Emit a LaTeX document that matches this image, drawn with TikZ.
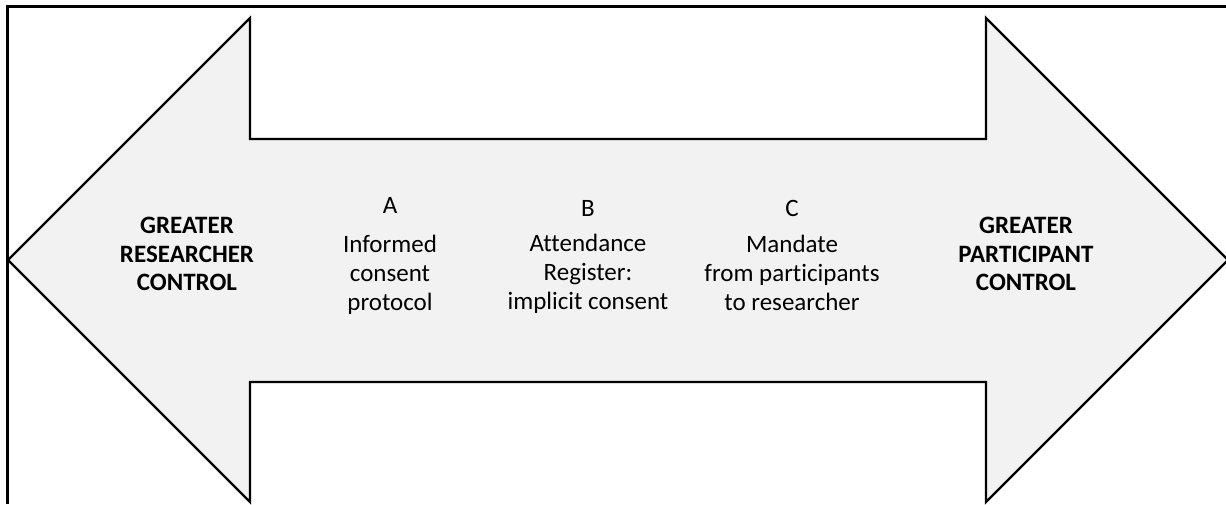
\documentclass[tikz,border=0pt]{standalone}
\usepackage{fontspec}
\setmainfont{Carlito}[Ligatures={NoCommon}]
\definecolor{arrowfill}{HTML}{F2F2F2}
\begin{document}
\begin{tikzpicture}[x=1pt,y=-1pt,
  label/.style={align=center,font=\fontsize{25}{28.8}\selectfont,inner sep=0pt},
  endlabel/.style={label,font=\fontsize{25}{28.8}\selectfont\bfseries},
  letter/.style={label}]
  \useasboundingbox (0,0) rectangle (1226,504);
  % frame (open at right and bottom)
  \draw[line width=3pt] (7,504) -- (7,6) -- (1230,6);
  % double-headed block arrow
  \draw[line width=2.2pt,fill=arrowfill,line join=miter]
    (8,260) -- (250,18) -- (250,139) -- (986,139) -- (986,18) -- (1228,260)
    -- (986,502) -- (986,382) -- (250,382) -- (250,502) -- cycle;
  % end labels
  \node[endlabel] (left) at (187,254) {GREATER\\RESEARCHER\\CONTROL};
  \node[endlabel] (right) at (1026,254) {GREATER\\PARTICIPANT\\CONTROL};
  % positions along the scale
  \node[letter] (la) at (390,205) {A};
  \node[label] (ta) at (390,275) {Informed\\consent\\protocol};
  \node[letter] (lb) at (588,208) {B};
  \node[label] (tb) at (588,274) {Attendance\\Register:\\implicit consent};
  \node[letter] (lc) at (792,208) {C};
  \node[label] (tc) at (792,273) {Mandate\\from participants\\to researcher};
\end{tikzpicture}
\end{document}
